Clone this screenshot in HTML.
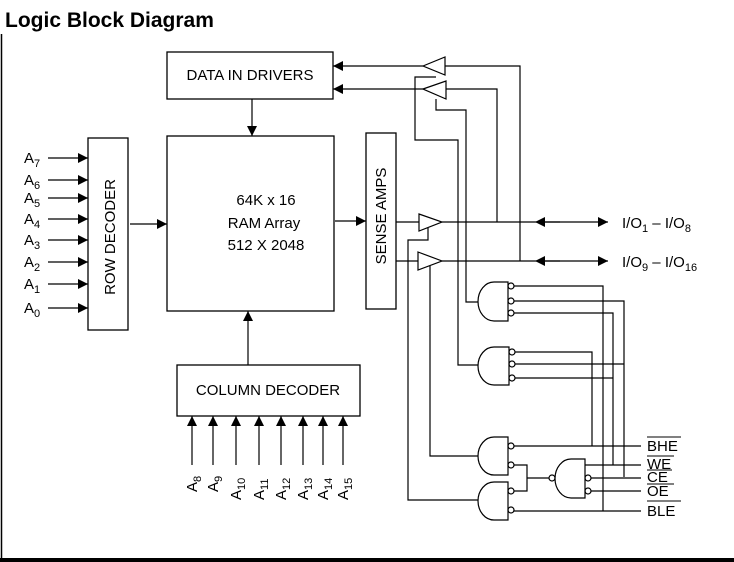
<!DOCTYPE html>
<html><head><style>
html,body{margin:0;padding:0;background:#fff;}
svg{display:block;}
text{font-family:"Liberation Sans",Arial,sans-serif;fill:#000;}
</style></head><body>
<svg width="734" height="562" viewBox="0 0 734 562" xmlns="http://www.w3.org/2000/svg">
<defs>
<marker id="ah" viewBox="0 0 10 10" refX="10" refY="5" markerWidth="15" markerHeight="10" markerUnits="userSpaceOnUse" orient="auto"><path d="M0,0 L10,5 L0,10 Z" fill="#000"/></marker>
</defs>
<text x="5" y="27" font-size="21" font-weight="bold">Logic Block Diagram</text>
<line x1="1.5" y1="34" x2="1.5" y2="560" stroke="#000" stroke-width="1.5"/>
<rect x="0" y="558" width="734" height="4" fill="#000"/>
<g fill="none" stroke="#000" stroke-width="1.3">
<rect x="167" y="52" width="166" height="47"/>
<rect x="167" y="136" width="167" height="175"/>
<rect x="88" y="138" width="40" height="192"/>
<rect x="366" y="133" width="30" height="176"/>
<rect x="177" y="365" width="183" height="51"/>
</g>
<text x="250" y="80" font-size="15" text-anchor="middle">DATA IN DRIVERS</text>
<text x="266" y="205" font-size="15" text-anchor="middle">64K x 16</text>
<text x="264" y="228" font-size="15" text-anchor="middle">RAM Array</text>
<text x="266" y="250" font-size="15" text-anchor="middle">512 X 2048</text>
<text transform="translate(115,237) rotate(-90)" font-size="15" text-anchor="middle">ROW DECODER</text>
<text transform="translate(386,216) rotate(-90)" font-size="15" text-anchor="middle">SENSE AMPS</text>
<text x="268" y="395" font-size="15" text-anchor="middle">COLUMN DECODER</text>
<g stroke="#000" stroke-width="1.2" fill="none">
<line x1="48" y1="158" x2="88" y2="158" marker-end="url(#ah)"/>
<line x1="48" y1="180" x2="88" y2="180" marker-end="url(#ah)"/>
<line x1="48" y1="198" x2="88" y2="198" marker-end="url(#ah)"/>
<line x1="48" y1="219" x2="88" y2="219" marker-end="url(#ah)"/>
<line x1="48" y1="240" x2="88" y2="240" marker-end="url(#ah)"/>
<line x1="48" y1="262" x2="88" y2="262" marker-end="url(#ah)"/>
<line x1="48" y1="284" x2="88" y2="284" marker-end="url(#ah)"/>
<line x1="48" y1="308" x2="88" y2="308" marker-end="url(#ah)"/>
<line x1="130" y1="224" x2="167" y2="224" marker-end="url(#ah)"/>
<line x1="335" y1="221" x2="366" y2="221" marker-end="url(#ah)"/>
<line x1="252" y1="99" x2="252" y2="136" marker-end="url(#ah)"/>
<line x1="248" y1="365" x2="248" y2="311" marker-end="url(#ah)"/>
<line x1="192" y1="465" x2="192" y2="416" marker-end="url(#ah)"/>
<line x1="213" y1="465" x2="213" y2="416" marker-end="url(#ah)"/>
<line x1="236" y1="465" x2="236" y2="416" marker-end="url(#ah)"/>
<line x1="259" y1="465" x2="259" y2="416" marker-end="url(#ah)"/>
<line x1="281" y1="465" x2="281" y2="416" marker-end="url(#ah)"/>
<line x1="303" y1="465" x2="303" y2="416" marker-end="url(#ah)"/>
<line x1="323" y1="465" x2="323" y2="416" marker-end="url(#ah)"/>
<line x1="343" y1="465" x2="343" y2="416" marker-end="url(#ah)"/>
<line x1="423" y1="66" x2="333" y2="66" marker-end="url(#ah)"/>
<line x1="423" y1="89" x2="333" y2="89" marker-end="url(#ah)"/>
<path d="M423,66 L445,57 L445,75 Z"/>
<path d="M423,89 L446,81 L446,99 Z"/>
<polyline points="445,66 520,66 520,261"/>
<polyline points="446,89 497,89 497,222"/>
<polyline points="436,77 415,77 415,140 458,140 458,365 478,365"/>
<polyline points="436,99 436,110 466,110 466,302 478,302"/>
<line x1="396" y1="222" x2="419" y2="222"/>
<line x1="396" y1="261" x2="418" y2="261"/>
<path d="M419,214 L442,222 L419,231 Z"/>
<path d="M418,252 L442,261 L418,270 Z"/>
<line x1="442" y1="222" x2="535" y2="222"/>
<line x1="442" y1="261" x2="535" y2="261"/>
<line x1="560" y1="222" x2="535" y2="222" marker-end="url(#ah)"/>
<line x1="560" y1="261" x2="535" y2="261" marker-end="url(#ah)"/>
<line x1="545" y1="222" x2="608" y2="222" marker-end="url(#ah)"/>
<line x1="545" y1="261" x2="608" y2="261" marker-end="url(#ah)"/>
<polyline points="428,228 428,240 408,240 408,500 478,500"/>
<polyline points="430,266 430,456 478,456"/>
<path d="M508,282 H494 A16,19.5 0 0 0 494,321 H508 Z"/>
<path d="M509,347 H494 A16,19 0 0 0 494,385 H509 Z"/>
<path d="M508,437 H494 A16,19 0 0 0 494,475 H508 Z"/>
<path d="M508,482 H494 A16,19 0 0 0 494,520 H508 Z"/>
<path d="M585,459 H571 A16,19.5 0 0 0 571,498 H585 Z"/>
<circle cx="511" cy="286" r="3"/><circle cx="511" cy="301" r="3"/><circle cx="511" cy="313" r="3"/>
<circle cx="512" cy="352" r="3"/><circle cx="512" cy="364" r="3"/><circle cx="512" cy="378" r="3"/>
<circle cx="511" cy="446" r="3"/><circle cx="511" cy="465" r="3"/>
<circle cx="511" cy="491" r="3"/><circle cx="511" cy="510" r="3"/>
<circle cx="552" cy="478" r="3"/>
<circle cx="588" cy="478" r="3"/><circle cx="588" cy="491" r="3"/>
<polyline points="514,286 603,286 603,511"/>
<polyline points="514,301 624,301 624,477"/>
<polyline points="514,313 613,313 613,465"/>
<polyline points="515,352 592,352 592,446"/>
<line x1="515" y1="364" x2="624" y2="364"/>
<line x1="515" y1="378" x2="613" y2="378"/>
<line x1="514" y1="446" x2="641" y2="446"/>
<polyline points="514,465 527,465 527,491 514,491"/>
<line x1="527" y1="478" x2="549" y2="478"/>
<line x1="585" y1="465" x2="641" y2="465"/>
<line x1="591" y1="478" x2="641" y2="478"/>
<line x1="591" y1="491" x2="641" y2="491"/>
<line x1="514" y1="511" x2="641" y2="511"/>
</g>
<g font-size="15">
<text x="24" y="163">A<tspan font-size="11" dy="4">7</tspan></text>
<text x="24" y="185">A<tspan font-size="11" dy="4">6</tspan></text>
<text x="24" y="203">A<tspan font-size="11" dy="4">5</tspan></text>
<text x="24" y="224">A<tspan font-size="11" dy="4">4</tspan></text>
<text x="24" y="245">A<tspan font-size="11" dy="4">3</tspan></text>
<text x="24" y="267">A<tspan font-size="11" dy="4">2</tspan></text>
<text x="24" y="289">A<tspan font-size="11" dy="4">1</tspan></text>
<text x="24" y="313">A<tspan font-size="11" dy="4">0</tspan></text>
<text transform="translate(197,492) rotate(-90)">A<tspan font-size="11" dy="4">8</tspan></text>
<text transform="translate(218,492) rotate(-90)">A<tspan font-size="11" dy="4">9</tspan></text>
<text transform="translate(241,500) rotate(-90)">A<tspan font-size="11" dy="4">10</tspan></text>
<text transform="translate(264,500) rotate(-90)">A<tspan font-size="11" dy="4">11</tspan></text>
<text transform="translate(286,500) rotate(-90)">A<tspan font-size="11" dy="4">12</tspan></text>
<text transform="translate(308,500) rotate(-90)">A<tspan font-size="11" dy="4">13</tspan></text>
<text transform="translate(328,500) rotate(-90)">A<tspan font-size="11" dy="4">14</tspan></text>
<text transform="translate(348,500) rotate(-90)">A<tspan font-size="11" dy="4">15</tspan></text>
<text x="622" y="228">I/O<tspan font-size="11" dy="4">1</tspan><tspan dy="-4"> – I/O</tspan><tspan font-size="11" dy="4">8</tspan></text>
<text x="622" y="267">I/O<tspan font-size="11" dy="4">9</tspan><tspan dy="-4"> – I/O</tspan><tspan font-size="11" dy="4">16</tspan></text>
<text x="647" y="451">BHE</text>
<text x="647" y="469">WE</text>
<text x="647" y="482">CE</text>
<text x="647" y="496">OE</text>
<text x="647" y="516">BLE</text>
</g>
<g stroke="#000" stroke-width="1">
<line x1="647" y1="437" x2="681" y2="437"/>
<line x1="647" y1="456" x2="674" y2="456"/>
<line x1="647" y1="470" x2="672" y2="470"/>
<line x1="647" y1="484" x2="674" y2="484"/>
<line x1="647" y1="501" x2="681" y2="501"/>
</g>
</svg>
</body></html>
